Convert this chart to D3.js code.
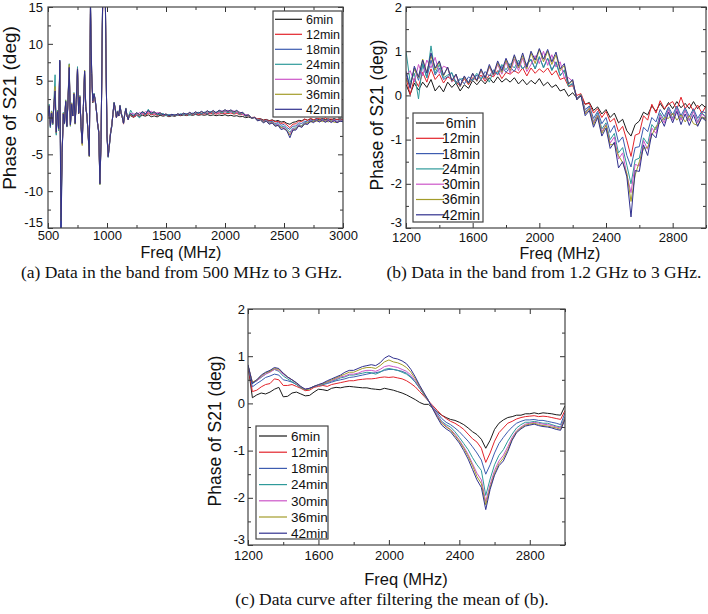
<!DOCTYPE html>
<html>
<head>
<meta charset="utf-8">
<script src="https://cdn.jsdelivr.net/npm/d3@7"></script>
<style>
  body { margin: 0; background: #fff; }
  svg { display: block; }
</style>
</head>
<body>
<svg id="chart" width="708" height="614"></svg>
<script>
const seriesNames = ['6min', '12min', '18min', '24min', '30min', '36min', '42min'];
const seriesColors = ['#1a1a1a', '#e3232b', '#3d5cb0', '#2e9a9a', '#cc55c8', '#a39c2a', '#30308e'];

// sampling grids (MHz)
const freqLow = d3.range(500, 1200, 10);
const freqHigh = d3.range(1200, 3001, 25);

// panel (a), 500-1190 MHz part (the rest is the same data as panel b)
const low6  = [0.4,1.2,-0.9,0.5,-0.6,1.5,3.0,-1.6,0.6,-1.2,7.0,-11.0,-4.2,0.4,-0.6,2.0,-1.0,2.2,6.2,-0.8,1.6,0.2,3.0,-0.6,2.2,6.0,0.5,2.5,-1.0,-3.0,1.4,5.8,1.4,0.2,-2.0,-4.8,14.0,5.5,2.0,3.0,2.2,0.9,-0.7,-1.8,-8.4,-2.6,11.0,23.0,25.0,9.5,-2.2,-5.0,-3.6,-2.0,-1.0,0.4,1.8,1.0,0.0,0.7,0.2,1.4,0.5,0.0,-0.6,0.4,1.0,0.2,-0.2,0.3];
const low12 = [0.0,1.4,-1.0,0.7,-0.7,1.6,3.2,-1.8,0.7,-1.4,7.2,-12.0,-4.5,0.6,-0.7,2.1,-1.1,2.4,6.5,-0.9,1.7,0.3,3.1,-0.7,2.3,6.7,0.6,2.6,-1.1,-3.2,1.5,6.0,1.5,0.3,-2.1,-5.0,14.8,5.8,2.1,3.1,2.3,1.0,-0.8,-1.9,-8.8,-2.8,11.5,23.5,25.5,9.8,-2.4,-5.2,-3.7,-2.1,-1.1,0.4,1.9,1.1,0.0,0.8,0.2,1.5,0.6,0.0,-0.9,0.4,1.1,0.2,-0.3,0.4];
const low18 = [0.1,1.5,-1.3,0.6,-0.9,1.7,3.4,-2.2,0.8,-1.6,7.6,-16.0,-4.9,0.5,-0.8,2.2,-1.2,2.5,6.7,-1.1,1.8,0.2,3.2,-0.8,2.4,6.5,0.6,2.8,-1.2,-3.5,1.5,6.3,1.5,0.2,-2.2,-5.3,15.5,6.0,2.2,3.2,2.4,1.0,-0.8,-2.0,-9.0,-3.0,12.0,24.0,26.0,10.0,-2.5,-5.4,-3.8,-2.2,-1.2,0.4,2.0,1.2,0.0,0.8,0.2,1.6,0.6,0.0,-0.8,0.4,1.2,0.2,-0.3,0.4];
const low24 = [0.6,1.8,-1.4,0.9,-1.0,2.2,5.8,-2.4,1.0,-1.8,7.4,-13.5,-4.6,0.7,-0.9,2.4,-1.3,2.8,7.3,-1.2,2.0,0.3,3.4,-0.9,2.6,6.9,0.7,3.0,-1.3,-3.6,1.6,6.4,1.6,0.3,-2.3,-5.2,15.5,6.2,2.3,3.3,2.5,1.1,-0.9,-2.1,-9.1,-3.1,12.2,24.0,26.0,10.0,-2.6,-5.4,-3.9,-2.3,-1.3,0.5,2.1,1.3,0.1,0.9,0.3,1.7,0.7,0.1,-0.8,0.5,1.3,0.3,-0.2,0.5];
const low30 = [0.3,1.5,-1.1,0.7,-0.8,1.8,3.8,-2.0,0.8,-1.5,7.5,-13.0,-4.7,0.5,-0.8,2.2,-1.2,2.6,6.9,-1.0,1.9,0.2,3.3,-0.8,2.5,6.6,0.6,2.9,-1.2,-3.6,1.5,6.2,1.5,0.2,-2.2,-5.2,15.2,6.0,2.2,3.2,2.4,1.0,-0.8,-2.0,-9.0,-3.0,12.0,24.0,26.0,10.0,-2.5,-5.3,-3.8,-2.2,-1.2,0.4,2.0,1.2,0.0,0.8,0.2,1.6,0.6,0.0,-0.8,0.4,1.2,0.2,-0.3,0.4];
const low36 = [0.4,1.6,-1.2,0.8,-0.9,1.9,4.2,-2.1,0.9,-1.6,7.7,-14.0,-4.8,0.6,-0.8,2.3,-1.2,2.7,7.2,-1.1,1.9,0.3,3.3,-0.9,2.5,6.6,0.6,2.9,-1.3,-3.8,1.5,6.4,1.6,0.2,-2.3,-5.3,15.5,6.1,2.2,3.2,2.4,1.0,-0.8,-2.0,-9.1,-3.0,12.0,24.0,26.0,10.0,-2.5,-5.3,-3.8,-2.2,-1.2,0.4,2.0,1.2,0.0,0.8,0.2,1.6,0.6,0.0,-0.8,0.4,1.2,0.2,-0.3,0.4];
const low42 = [0.2,1.6,-1.2,0.6,-0.8,1.8,3.6,-2.0,0.8,-1.5,7.8,-16.0,-4.8,0.5,-0.8,2.2,-1.2,2.5,6.8,-1.0,1.8,0.2,3.2,-0.8,2.4,6.6,0.6,2.8,-1.2,-3.5,1.5,6.3,1.5,0.2,-2.2,-5.2,15.5,6.0,2.2,3.2,2.4,1.0,-0.8,-2.0,-9.0,-3.0,12.0,24.0,26.0,10.0,-2.5,-5.3,-3.8,-2.2,-1.2,0.4,2.0,1.2,0.0,0.8,0.2,1.6,0.6,0.0,-0.8,0.4,1.2,0.2,-0.3,0.4];

// panel (b), raw phase 1200-3000 MHz
const raw6  = [0.25,0.02,0.28,0.12,0.30,0.18,0.36,0.10,0.22,0.08, 0.30,0.18,0.28,0.10,0.24,0.16,0.34,0.24,0.36,0.26, 0.40,0.28,0.42,0.30,0.38,0.30,0.40,0.26,0.36,0.24, 0.34,0.26,0.38,0.22,0.30,0.18,0.24,0.10,0.14,-0.02, 0.06,-0.06,-0.02,-0.20,-0.16,-0.34,-0.26,-0.42,-0.32,-0.50, -0.40,-0.62,-0.54,-0.80,-0.92,-0.66,-0.58,-0.38,-0.44,-0.24, -0.36,-0.18,-0.32,-0.16,-0.30,-0.14,-0.28,-0.18,-0.30,-0.14, -0.30,-0.20,-0.28];
const raw12 = [0.40,0.02,0.38,0.20,0.52,0.30,0.60,0.36,0.48,0.28, 0.42,0.36,0.30,0.22,0.38,0.24,0.40,0.34,0.46,0.32, 0.46,0.42,0.56,0.38,0.52,0.48,0.56,0.50,0.62,0.44, 0.62,0.50,0.60,0.52,0.62,0.46,0.56,0.36,0.40,0.20, 0.22,0.00,0.04,-0.20,-0.18,-0.40,-0.30,-0.50,-0.36,-0.60, -0.52,-0.82,-0.70,-1.02,-1.38,-0.90,-0.86,-0.46,-0.56,-0.20, -0.40,-0.12,-0.30,-0.20,-0.14,-0.32,-0.04,-0.30,-0.18,-0.36, -0.22,-0.40,-0.24];
const raw18 = [0.55,0.20,0.62,0.34,0.70,0.40,0.80,0.46,0.62,0.36, 0.42,0.50,0.30,0.38,0.26,0.42,0.34,0.46,0.36,0.54, 0.44,0.58,0.46,0.66,0.52,0.64,0.54,0.74,0.60,0.72, 0.82,0.60,0.86,0.64,0.84,0.58,0.76,0.46,0.56,0.22, 0.26,-0.06,0.02,-0.32,-0.24,-0.52,-0.36,-0.64,-0.50,-0.84, -0.68,-1.06,-0.94,-1.36,-1.62,-1.18,-1.16,-0.72,-0.82,-0.50, -0.60,-0.32,-0.48,-0.26,-0.44,-0.24,-0.46,-0.28,-0.48,-0.30, -0.52,-0.36,-0.40];
const raw24 = [1.00,0.30,0.50,-0.08,0.72,0.40,1.12,0.50,0.70,0.40, 0.46,0.52,0.26,0.36,0.40,0.30,0.36,0.50,0.38,0.44, 0.30,0.56,0.50,0.70,0.58,0.72,0.62,0.80,0.60,0.70, 0.80,0.60,0.88,0.62,0.84,0.56,0.74,0.44,0.58,0.20, 0.28,-0.08,0.02,-0.38,-0.26,-0.60,-0.40,-0.76,-0.62,-1.00, -0.86,-1.30,-1.18,-1.58,-2.00,-1.46,-1.42,-0.96,-1.10,-0.66, -0.78,-0.40,-0.56,-0.30,-0.52,-0.28,-0.54,-0.32,-0.56,-0.34, -0.60,-0.40,-0.48];
const raw30 = [0.46,0.56,0.30,0.70,0.44,0.80,0.62,0.86,0.50,0.66, 0.62,0.30,0.46,0.20,0.42,0.26,0.48,0.32,0.56,0.36, 0.64,0.44,0.70,0.48,0.76,0.50,0.82,0.56,0.84,0.54, 0.70,0.90,0.72,1.00,0.68,0.92,0.64,0.76,0.40,0.40, 0.32,-0.08,0.02,-0.40,-0.28,-0.62,-0.44,-0.82,-0.66,-1.08, -0.94,-1.44,-1.30,-1.80,-2.20,-1.56,-1.60,-1.02,-1.22,-0.74, -0.86,-0.44,-0.62,-0.32,-0.56,-0.30,-0.56,-0.34,-0.58,-0.36, -0.62,-0.42,-0.50];
const raw36 = [0.38,0.20,0.60,0.40,0.82,0.52,0.90,0.58,0.76,0.44, 0.64,0.32,0.48,0.20,0.42,0.26,0.50,0.32,0.58,0.38, 0.66,0.46,0.74,0.52,0.80,0.56,0.88,0.62,0.90,0.60, 0.96,0.72,1.04,0.76,1.00,0.70,0.92,0.56,0.68,0.24, 0.34,-0.10,0.02,-0.42,-0.30,-0.66,-0.46,-0.86,-0.68,-1.12, -1.10,-1.36,-1.52,-1.76,-2.40,-1.80,-1.50,-1.20,-1.18,-0.90, -0.70,-0.62,-0.50,-0.52,-0.40,-0.56,-0.44,-0.60,-0.46,-0.64, -0.68,-0.48,-0.56];
const raw42 = [0.50,0.16,0.66,0.42,0.80,0.50,0.96,0.62,0.78,0.46, 0.64,0.34,0.48,0.22,0.44,0.28,0.50,0.34,0.60,0.40, 0.70,0.48,0.78,0.56,0.84,0.62,0.92,0.66,0.96,0.64, 1.00,0.80,1.06,0.82,1.04,0.76,0.98,0.60,0.72,0.26, 0.36,-0.10,0.00,-0.46,-0.34,-0.72,-0.50,-0.92,-0.74,-1.20, -1.06,-1.64,-1.50,-1.84,-2.75,-1.70,-1.72,-1.12,-1.36,-0.86, -0.96,-0.50,-0.70,-0.38,-0.62,-0.36,-0.66,-0.42,-0.68,-0.44, -0.70,-0.50,-0.58];

// panel (c), after mean filtering
const filt6  = [0.80,0.12,0.18,0.22,0.20,0.24,0.30,0.34,0.14,0.15, 0.22,0.24,0.20,0.16,0.17,0.24,0.30,0.29,0.27,0.32, 0.34,0.33,0.35,0.36,0.35,0.34,0.33,0.33,0.31,0.30, 0.29,0.32,0.30,0.28,0.25,0.22,0.18,0.13,0.08,0.02, -0.02,-0.02,-0.10,-0.18,-0.25,-0.30,-0.34,-0.36,-0.40,-0.45, -0.52,-0.60,-0.66,-0.76,-0.95,-0.78,-0.55,-0.42,-0.35,-0.30, -0.28,-0.25,-0.25,-0.22,-0.22,-0.20,-0.22,-0.20,-0.21,-0.22, -0.24,-0.25,-0.05];
const filt12 = [0.78,0.25,0.28,0.35,0.40,0.42,0.52,0.50,0.38,0.38, 0.40,0.36,0.32,0.27,0.28,0.34,0.36,0.38,0.36,0.40, 0.42,0.44,0.46,0.48,0.48,0.50,0.51,0.52,0.52,0.53, 0.55,0.56,0.55,0.56,0.54,0.52,0.48,0.42,0.35,0.25, 0.15,0.05,-0.05,-0.15,-0.25,-0.32,-0.38,-0.42,-0.48,-0.55, -0.65,-0.75,-0.82,-0.95,-1.25,-1.05,-0.80,-0.62,-0.52,-0.42, -0.38,-0.33,-0.30,-0.28,-0.27,-0.26,-0.28,-0.27,-0.28,-0.30, -0.32,-0.34,-0.15];
const filt18 = [0.80,0.35,0.42,0.48,0.55,0.58,0.62,0.60,0.50,0.48, 0.45,0.40,0.34,0.30,0.32,0.36,0.38,0.40,0.42,0.45, 0.48,0.50,0.52,0.55,0.56,0.58,0.60,0.62,0.64,0.65, 0.67,0.70,0.72,0.72,0.70,0.68,0.64,0.56,0.45,0.32, 0.18,0.05,-0.08,-0.20,-0.32,-0.40,-0.45,-0.52,-0.60,-0.70, -0.80,-0.92,-1.05,-1.20,-1.50,-1.30,-1.05,-0.85,-0.72,-0.60, -0.50,-0.42,-0.38,-0.35,-0.35,-0.34,-0.36,-0.36,-0.38,-0.40, -0.42,-0.45,-0.20];
const filt24 = [0.80,0.42,0.48,0.55,0.62,0.68,0.72,0.68,0.58,0.52, 0.46,0.40,0.33,0.29,0.31,0.36,0.38,0.40,0.44,0.47, 0.50,0.54,0.56,0.60,0.60,0.62,0.64,0.66,0.65,0.62, 0.66,0.72,0.74,0.72,0.70,0.66,0.62,0.55,0.45,0.32, 0.18,0.05,-0.10,-0.24,-0.38,-0.45,-0.50,-0.60,-0.72,-0.85, -0.98,-1.15,-1.30,-1.42,-1.95,-1.60,-1.30,-1.10,-0.98,-0.80, -0.65,-0.52,-0.45,-0.40,-0.40,-0.38,-0.40,-0.42,-0.42,-0.45, -0.48,-0.50,-0.28];
const filt30 = [0.80,0.45,0.48,0.56,0.62,0.66,0.72,0.70,0.62,0.55, 0.50,0.42,0.35,0.30,0.32,0.36,0.38,0.42,0.45,0.48, 0.52,0.56,0.58,0.62,0.62,0.64,0.68,0.70,0.70,0.68, 0.72,0.78,0.80,0.78,0.76,0.72,0.68,0.60,0.48,0.34, 0.20,0.06,-0.10,-0.25,-0.40,-0.48,-0.55,-0.65,-0.78,-0.92, -1.08,-1.28,-1.48,-1.62,-2.08,-1.72,-1.42,-1.22,-1.10,-0.92, -0.72,-0.58,-0.50,-0.44,-0.42,-0.40,-0.42,-0.44,-0.45,-0.47, -0.50,-0.52,-0.30];
const filt36 = [0.80,0.45,0.50,0.58,0.65,0.68,0.74,0.72,0.64,0.56, 0.50,0.43,0.35,0.29,0.31,0.36,0.39,0.42,0.46,0.50, 0.54,0.58,0.62,0.66,0.66,0.70,0.74,0.76,0.76,0.74, 0.80,0.88,0.92,0.88,0.86,0.82,0.76,0.66,0.52,0.36, 0.20,0.06,-0.12,-0.28,-0.42,-0.50,-0.56,-0.68,-0.80,-0.95, -1.12,-1.32,-1.55,-1.70,-2.15,-1.78,-1.48,-1.28,-1.16,-0.98, -0.76,-0.60,-0.52,-0.46,-0.44,-0.42,-0.45,-0.47,-0.48,-0.50, -0.52,-0.55,-0.32];
const filt42 = [0.82,0.42,0.50,0.60,0.66,0.70,0.76,0.74,0.64,0.56, 0.50,0.44,0.36,0.30,0.32,0.36,0.40,0.43,0.48,0.52, 0.56,0.60,0.66,0.70,0.70,0.74,0.78,0.80,0.82,0.80, 0.86,0.96,1.01,0.96,0.94,0.90,0.84,0.72,0.56,0.38, 0.22,0.06,-0.12,-0.30,-0.46,-0.54,-0.60,-0.72,-0.84,-1.00, -1.18,-1.40,-1.62,-1.78,-2.25,-1.82,-1.52,-1.32,-1.22,-1.02, -0.78,-0.62,-0.54,-0.48,-0.46,-0.44,-0.47,-0.49,-0.50,-0.52, -0.55,-0.57,-0.34];

// tick labels
const xTicksA = [500, 1000, 1500, 2000, 2500, 3000];
const xMinorA = [750, 1250, 1750, 2250, 2750];
const yTicksA = [-15, -10, -5, 0, 5, 10, 15];
const yMinorA = [-12.5, -7.5, -2.5, 2.5, 7.5, 12.5];
const xTicksBC = [1200, 1600, 2000, 2400, 2800];
const xMinorBC = [1400, 1800, 2200, 2600, 3000];
const yTicksBC = [-3, -2, -1, 0, 1, 2];
const yMinorBC = [-2.5, -1.5, -0.5, 0.5, 1.5];

const lowSeries = [low6, low12, low18, low24, low30, low36, low42];
const rawSeries = [raw6, raw12, raw18, raw24, raw30, raw36, raw42];
const filtSeries = [filt6, filt12, filt18, filt24, filt30, filt36, filt42];

const SANS = '"Liberation Sans", Arial, sans-serif';
const SERIF = '"Liberation Serif", "Times New Roman", serif';
const svg = d3.select('#chart');

function axisPart(g, axis, tr) {
  const a = g.append('g').attr('transform', tr).call(axis);
  a.select('.domain').remove();
  a.selectAll('.tick line').attr('stroke', '#333').attr('stroke-width', 1);
  a.selectAll('.tick text')
    .style('font-family', SANS).style('font-size', '13px').attr('fill', '#111');
  return a;
}

function drawPanel(p) {
  const g = svg.append('g');
  const x = d3.scaleLinear().domain(p.xDomain).range([p.left, p.right]);
  const y = d3.scaleLinear().domain(p.yDomain).range([p.bottom, p.top]);

  svg.append('clipPath').attr('id', 'clip-' + p.id)
    .append('rect')
    .attr('x', p.left).attr('y', p.top)
    .attr('width', p.right - p.left).attr('height', p.bottom - p.top);

  const lines = g.append('g').attr('clip-path', `url(#clip-${p.id})`);
  const line = d3.line().x((d, i) => x(p.freqs[i])).y(d => y(d));
  p.series.forEach((s, k) => {
    lines.append('path')
      .attr('d', line(s))
      .attr('fill', 'none')
      .attr('stroke', seriesColors[k])
      .attr('stroke-width', 1)
      .attr('stroke-linejoin', 'round');
  });

  const fmt = d => String(d);
  // bottom / left with labels, top / right mirrored, ticks inward
  axisPart(g, d3.axisBottom(x).tickValues(p.xTicks).tickSize(-5).tickPadding(p.xPad).tickFormat(fmt), `translate(0,${p.bottom})`);
  axisPart(g, d3.axisBottom(x).tickValues(p.xMinor).tickSize(-3).tickFormat(''), `translate(0,${p.bottom})`);
  axisPart(g, d3.axisTop(x).tickValues(p.xTicks).tickSize(-5).tickFormat(''), `translate(0,${p.top})`);
  axisPart(g, d3.axisTop(x).tickValues(p.xMinor).tickSize(-3).tickFormat(''), `translate(0,${p.top})`);
  const yl = axisPart(g, d3.axisLeft(y).tickValues(p.yTicks).tickSize(-5).tickPadding(p.yPad).tickFormat(fmt), `translate(${p.left},0)`);
  // lowest label sits a little higher so it clears the first x label
  yl.selectAll('.tick text').filter(d => d === p.yDomain[0]).attr('dy', '-0.08em');
  axisPart(g, d3.axisLeft(y).tickValues(p.yMinor).tickSize(-3).tickFormat(''), `translate(${p.left},0)`);
  axisPart(g, d3.axisRight(y).tickValues(p.yTicks).tickSize(-5).tickFormat(''), `translate(${p.right},0)`);
  axisPart(g, d3.axisRight(y).tickValues(p.yMinor).tickSize(-3).tickFormat(''), `translate(${p.right},0)`);

  g.append('rect')
    .attr('x', p.left).attr('y', p.top)
    .attr('width', p.right - p.left).attr('height', p.bottom - p.top)
    .attr('fill', 'none').attr('stroke', '#444').attr('stroke-width', 1.2);

  // legend
  const L = p.legend;
  const lg = g.append('g');
  lg.append('rect')
    .attr('x', L.x).attr('y', L.y).attr('width', L.w).attr('height', L.h)
    .attr('fill', '#fff').attr('stroke', '#444').attr('stroke-width', 1.2);
  seriesNames.forEach((name, k) => {
    const ry = L.row0 + k * L.dy;
    lg.append('line')
      .attr('x1', L.lx0).attr('x2', L.lx1).attr('y1', ry).attr('y2', ry)
      .attr('stroke', seriesColors[k]).attr('stroke-width', 1.2);
    lg.append('text')
      .attr('x', L.tx).attr('y', ry).attr('dy', '0.35em')
      .attr('text-anchor', L.anchor)
      .style('font-family', SANS).style('font-size', L.size + 'px')
      .attr('fill', '#111')
      .text(name);
  });

  // axis titles
  g.append('text')
    .attr('x', p.xTitle[0]).attr('y', p.xTitle[1])
    .attr('text-anchor', 'middle')
    .style('font-family', SANS).style('font-size', p.titleSize + 'px')
    .attr('fill', '#111')
    .text('Freq (MHz)');
  g.append('text')
    .attr('transform', `translate(${p.yTitle[0]},${p.yTitle[1]}) rotate(-90)`)
    .attr('text-anchor', 'middle')
    .style('font-family', SANS).style('font-size', p.yTitleSize + 'px')
    .attr('fill', '#111')
    .text('Phase of S21 (deg)');

  // caption
  g.append('text')
    .attr('x', p.caption[0]).attr('y', p.caption[1])
    .attr('text-anchor', 'middle')
    .style('font-family', SERIF).style('font-size', '17.5px')
    .attr('fill', '#111')
    .text(p.caption[2]);
}

drawPanel({
  id: 'a',
  left: 48, right: 343, top: 7, bottom: 228,
  xDomain: [500, 3000], yDomain: [-15, 15],
  freqs: freqLow.concat(freqHigh),
  series: lowSeries.map((s, k) => s.concat(rawSeries[k])),
  xTicks: xTicksA, xMinor: xMinorA, yTicks: yTicksA, yMinor: yMinorA,
  xPad: 3, yPad: 5,
  legend: { x: 273, y: 11, w: 69, h: 106, row0: 19.3, dy: 15, lx0: 275, lx1: 302, tx: 306, anchor: 'start', size: 12.5 },
  xTitle: [181, 258], titleSize: 16,
  yTitle: [16, 108], yTitleSize: 19,
  caption: [181.5, 278, '(a) Data in the band from 500 MHz to 3 GHz.']
});

drawPanel({
  id: 'b',
  left: 406, right: 706, top: 7, bottom: 228,
  xDomain: [1200, 3000], yDomain: [-3, 2],
  freqs: freqHigh,
  series: rawSeries,
  xTicks: xTicksBC, xMinor: xMinorBC, yTicks: yTicksBC, yMinor: yMinorBC,
  xPad: 5, yPad: 4,
  legend: { x: 413, y: 113, w: 70, h: 109, row0: 123, dy: 15.3, lx0: 416, lx1: 444, tx: 461, anchor: 'middle', size: 14 },
  xTitle: [560, 259], titleSize: 16,
  yTitle: [383, 115], yTitleSize: 17.5,
  caption: [544, 278, '(b) Data in the band from 1.2 GHz to 3 GHz.']
});

drawPanel({
  id: 'c',
  left: 248, right: 565, top: 309, bottom: 545,
  xDomain: [1200, 3000], yDomain: [-3, 2],
  freqs: freqHigh,
  series: filtSeries,
  xTicks: xTicksBC, xMinor: xMinorBC, yTicks: yTicksBC, yMinor: yMinorBC,
  xPad: 6, yPad: 3,
  legend: { x: 256, y: 426, w: 72, h: 113, row0: 436, dy: 16.2, lx0: 259, lx1: 287, tx: 291, anchor: 'start', size: 13.5 },
  xTitle: [406, 585], titleSize: 16.5,
  yTitle: [221, 431], yTitleSize: 17.5,
  caption: [392, 605, '(c) Data curve after filtering the mean of (b).']
});
</script>
</body>
</html>
